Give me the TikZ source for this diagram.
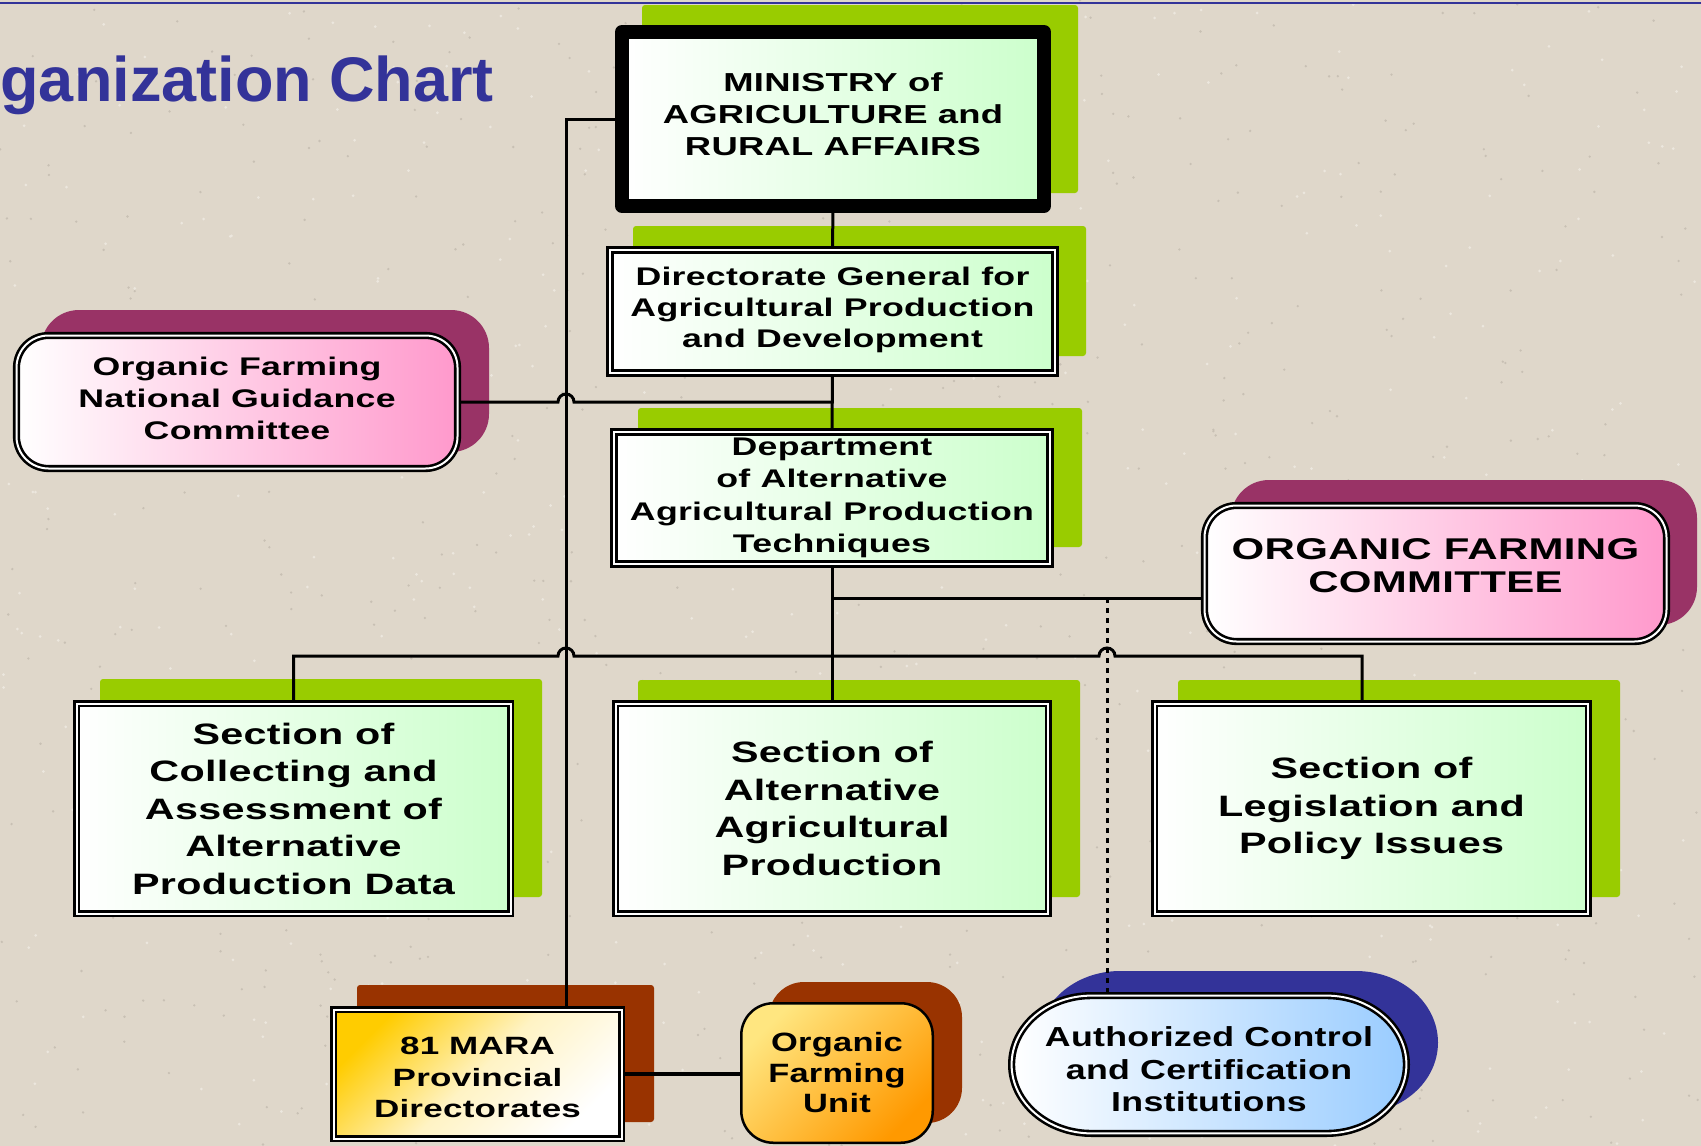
\documentclass[tikz,border=0pt]{standalone}
\usepackage{fontspec}
\setmainfont{Liberation Sans}
\newfontfamily\bx{Liberation Sans}[FakeStretch=1.4,LetterSpace=1]
\newfontfamily\bxn{Liberation Sans}[FakeStretch=1.3,LetterSpace=1]
\pgfdeclarelayer{bg}
\pgfdeclarelayer{wires}
\pgfsetlayers{bg,wires,main}
\definecolor{bgbeige}{RGB}{223,215,202}
\definecolor{speckdark}{RGB}{200,192,180}
\definecolor{specklight}{RGB}{236,231,222}
\definecolor{titleblue}{HTML}{333399}
\definecolor{shgreen}{HTML}{99CC00}
\definecolor{boxgreen}{HTML}{CCFFCC}
\definecolor{shmaroon}{HTML}{993366}
\definecolor{boxpink}{HTML}{FF99CC}
\definecolor{shbrown}{HTML}{993300}
\definecolor{shnavy}{HTML}{333399}
\definecolor{boxblue}{HTML}{99CCFF}
\definecolor{gold}{HTML}{FFCC00}
\definecolor{goldpale}{HTML}{FFF3C4}
\definecolor{ofuyellow}{HTML}{FFE680}
\definecolor{ofuorange}{HTML}{FF9900}
\newcommand\dep[1]{\rule[-#1]{0pt}{#1}}
\newcommand\hstr[1]{\rule{0pt}{#1}}
\begin{document}
\begin{tikzpicture}[x=1pt,y=-1pt,
  every node/.style={inner sep=0pt, outer sep=0pt, align=center},
  wire/.style={line width=3pt, draw=black},
  dotwire/.style={line width=3pt, draw=black, dash pattern=on 5pt off 5pt},
  dbl/.style={draw=black, line width=2.6pt, double=white, double distance=2pt},
  greenbox/.style={dbl, left color=white, right color=boxgreen},
  pinkbox/.style={dbl, left color=white, right color=boxpink, rounded corners=32pt},
  gshadow/.style={fill=shgreen, rounded corners=3pt},
  mshadow/.style={fill=shmaroon, rounded corners=38pt},
  secbox/.style={greenbox, minimum height=210pt, font=\bx\bfseries\fontsize{29.5}{37.5}\selectfont},
]
\useasboundingbox (0,0) rectangle (1701,1146);

% ---------- background, texture and shadows ----------
\begin{pgfonlayer}{bg}
\fill[bgbeige] (0,0) rectangle (1701,1146);
\pgfmathsetseed{7}
\foreach \i in {1,...,700} {
  \pgfmathsetmacro{\px}{rnd*1701}
  \pgfmathsetmacro{\py}{rnd*1146}
  \fill[speckdark] (\px,\py) circle (1.3pt);
}
\foreach \i in {1,...,500} {
  \pgfmathsetmacro{\px}{rnd*1701}
  \pgfmathsetmacro{\py}{rnd*1146}
  \fill[specklight] (\px,\py) circle (1.5pt);
}
\draw[titleblue, line width=2pt] (0,2.5) -- (1701,2.5);
\fill[gshadow] (642,5) rectangle (1078,193);
\fill[gshadow] (633,226) rectangle (1086,356);
\fill[gshadow] (638,408) rectangle (1082,547);
\fill[gshadow] (100,679) rectangle (542,897);
\fill[gshadow] (638,680) rectangle (1080,897);
\fill[gshadow] (1178,680) rectangle (1620,897);
\fill[mshadow] (41,310) rectangle (489,452);
\fill[mshadow] (1231,480) rectangle (1697,625);
\fill[shbrown, rounded corners=3pt] (357,985) rectangle (654,1122);
\fill[shbrown, rounded corners=35pt] (769,982) rectangle (962,1123);
\fill[shnavy] (1120,971) -- (1356,971)
  arc[start angle=90, end angle=-90, x radius=82pt, y radius=71.5pt]
  -- (1120,1114)
  arc[start angle=270, end angle=90, x radius=82pt, y radius=71.5pt] -- cycle;
\end{pgfonlayer}

% ---------- title ----------
\node[font=\bfseries\fontsize{63}{70}\selectfont, text=titleblue, anchor=base east] (title) at (494,101) {ganization Chart};

% ---------- boxes ----------
\node[draw=black, line width=14pt, line join=round, left color=white, right color=boxgreen,
      minimum width=422pt, minimum height=174pt,
      font=\bx\bfseries\fontsize{26}{32}\selectfont] (min) at (833,119)
      {MINISTRY of\\AGRICULTURE and\\RURAL AFFAIRS\dep{10pt}};

\node[greenbox, minimum width=445pt, minimum height=123pt,
      font=\bx\bfseries\fontsize{25.5}{31}\selectfont] (dir) at (832.5,311.5)
      {Directorate General for\\Agricultural Production\\and Development\dep{9pt}};

\node[greenbox, minimum width=436pt, minimum height=132pt,
      font=\bx\bfseries\fontsize{25.5}{32.3}\selectfont] (dep) at (832,498)
      {Department\\of Alternative\\Agricultural Production\\Techniques};

\node[pinkbox, minimum width=441pt, minimum height=133pt,
      font=\bx\bfseries\fontsize{25.5}{32}\selectfont] (ngc) at (237,402)
      {Organic Farming\\National Guidance\\Committee\dep{8pt}};

\node[pinkbox, minimum width=462pt, minimum height=136pt,
      font=\bx\bfseries\fontsize{30}{33}\selectfont] (ofc) at (1435.5,573.5)
      {ORGANIC FARMING\\COMMITTEE\dep{16pt}};

\node[secbox, minimum width=434pt] (s1) at (293.5,808.5)
      {Section of\\Collecting and\\Assessment of\\Alternative\\Production Data};
\node[secbox, minimum width=432.8pt] (s2) at (832,808.5)
      {Section of\\Alternative\\Agricultural\\Production};
\node[secbox, minimum width=433.8pt] (s3) at (1371.5,808.5)
      {Section of\\Legislation and\\Policy Issues};

\node[dbl, top color=gold, bottom color=white, middle color=goldpale, shading angle=45,
      minimum width=288pt, minimum height=129pt,
      font=\bx\bfseries\fontsize{25}{31.5}\selectfont] (mara) at (477.5,1074)
      {\hstr{25pt}81 MARA\\Provincial\\Directorates};

\node[draw=black, line width=2.5pt, rounded corners=32pt, top color=ofuyellow, bottom color=ofuorange,
      shading angle=45, minimum width=191.5pt, minimum height=139.5pt,
      font=\bxn\bfseries\fontsize{26.5}{30.5}\selectfont] (ofu) at (837,1073)
      {Organic\\Farming\\Unit};

\draw[dbl, left color=white, right color=boxblue] (1091.6,995.6) -- (1326.4,995.6)
  arc[start angle=90, end angle=-90, x radius=80pt, y radius=68.9pt]
  -- (1091.6,1133.4)
  arc[start angle=270, end angle=90, x radius=80pt, y radius=68.9pt] -- cycle;
\node[minimum width=395pt, minimum height=138pt,
      font=\bxn\bfseries\fontsize{27.5}{32.5}\selectfont] (auth) at (1209,1064.5)
      {\hstr{29.7pt}Authorized Control\\and Certification\\Institutions};

% ---------- connectors ----------
\begin{pgfonlayer}{wires}
\coordinate (vbend) at (566,119);
\coordinate (dj) at (1107,598);
\coordinate (bus) at (0,656);
\coordinate (s3drop) at (1362,0);
\draw[wire] (min.south) -- (dir.north);
\draw[wire] (dir.south) -- (dep.north);
\draw[wire] (dep.south) -- (s2.north);
\draw[wire] (min.west) -- (vbend) -- (vbend |- mara.north);
\draw[wire] (ngc.east) -- ([xshift=-8pt]vbend |- ngc.east)
  arc[start angle=180, end angle=0, radius=8pt] -- (ngc.east -| dir.south);
\draw[wire] (dep.south |- dj) -- (dj -| ofc.west);
\draw[dotwire] (dj) -- (dj |- auth.north);
\draw[wire] (s1.north) -- (s1.north |- bus) -- ([xshift=-8pt]vbend |- bus)
  arc[start angle=180, end angle=0, radius=8pt] -- ([xshift=-8pt]dj |- bus)
  arc[start angle=180, end angle=0, radius=8pt] -- (s3drop |- bus) -- (s3drop |- s3.north);
\draw[line width=4.3pt, draw=black] (mara.east) -- (mara.east -| ofu.west);
\end{pgfonlayer}
\end{tikzpicture}
\end{document}
